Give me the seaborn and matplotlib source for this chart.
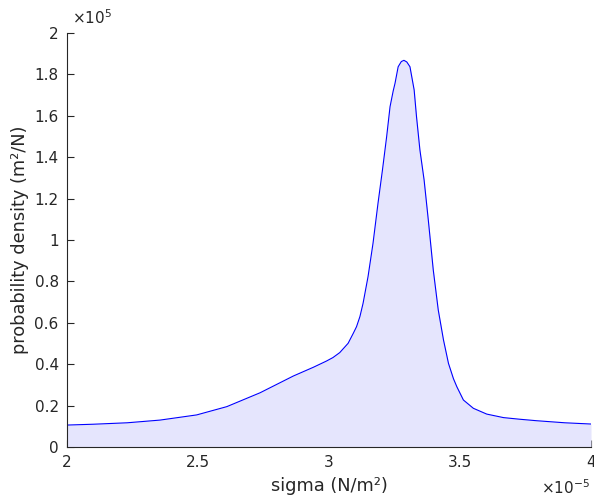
import matplotlib
matplotlib.use("Agg")
import matplotlib.pyplot as plt
from matplotlib.ticker import FuncFormatter, MultipleLocator
import seaborn as sns
import pandas as pd

# data (sigma in units of 1e-5 N/m^2, density in units of 1e5 m^2/N)
sigma_e5 = [2.00, 2.10, 2.23, 2.355, 2.495, 2.61, 2.737, 2.864, 2.94, 2.99, 3.015,
            3.041, 3.073, 3.093, 3.105, 3.118, 3.130, 3.149, 3.168, 3.187, 3.204,
            3.220, 3.233, 3.245, 3.252, 3.264, 3.276, 3.286, 3.297, 3.309, 3.325,
            3.334, 3.347, 3.363, 3.379, 3.398, 3.417, 3.437, 3.456, 3.475, 3.488,
            3.513, 3.551, 3.602, 3.666, 3.729, 3.792, 3.90, 4.00]
density_e5 = [0.106, 0.110, 0.117, 0.130, 0.155, 0.195, 0.262, 0.343, 0.385, 0.415, 0.432,
              0.456, 0.501, 0.550, 0.581, 0.630, 0.694, 0.823, 0.984, 1.177, 1.338,
              1.499, 1.644, 1.720, 1.757, 1.837, 1.862, 1.868, 1.860, 1.837, 1.725,
              1.596, 1.435, 1.290, 1.097, 0.855, 0.662, 0.517, 0.404, 0.330, 0.291,
              0.227, 0.187, 0.159, 0.142, 0.134, 0.127, 0.117, 0.111]

sigma = [v * 1e-5 for v in sigma_e5]
density = [v * 1e5 for v in density_e5]
df = pd.DataFrame({"sigma": sigma, "density": density})

sns.set_style("white")
plt.rcParams['font.family'] = ['DejaVu Sans']

fig = plt.figure(figsize=(5.94, 4.96), dpi=100)
ax = fig.add_axes([67/594, 1 - 447/496, (591-67)/594, (447-33)/496])

ax.fill_between(df["sigma"], 0, df["density"], color="#e5e5fd", linewidth=0)
sns.lineplot(data=df, x="sigma", y="density", ax=ax, color="#0000ff", linewidth=0.8)

ax.set_xlim(2e-5, 4e-5)
ax.set_ylim(0, 2e5)
ax.xaxis.set_major_locator(MultipleLocator(0.5e-5))
ax.yaxis.set_major_locator(MultipleLocator(0.2e5))
ax.xaxis.set_major_formatter(FuncFormatter(lambda v, p: "%g" % round(v / 1e-5, 3)))
ax.yaxis.set_major_formatter(FuncFormatter(lambda v, p: "%g" % round(v / 1e5, 3)))

for s in ["top", "right"]:
    ax.spines[s].set_visible(False)
for s in ["left", "bottom"]:
    ax.spines[s].set_color("#262626")
    ax.spines[s].set_linewidth(0.8)

ax.tick_params(direction="in", length=5, width=0.8, colors="#262626",
               labelsize=11, pad=6, bottom=True, left=True)

ax.set_xlabel("sigma (N/m²)", fontsize=12.8, color="#262626", labelpad=5)
ax.set_ylabel("probability density (m²/N)", fontsize=12.8, color="#262626", labelpad=4)

fig.text(72/594, 1 - 18/496, r"$\times10^{5}$", fontsize=11, color="#262626",
         ha="left", va="center")
fig.text(590/594, 1 - 488/496, r"$\times10^{-5}$", fontsize=11, color="#262626",
         ha="right", va="center")

fig.savefig("out.png", dpi=100)
